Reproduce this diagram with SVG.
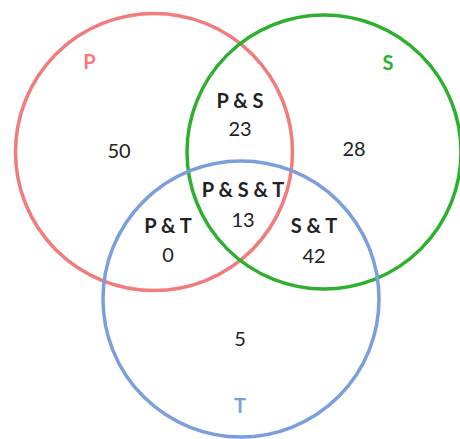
<svg xmlns="http://www.w3.org/2000/svg" width="460" height="439" viewBox="0 0 460 439">
<style>
.c{fill:none;stroke-width:3.5}
.t{font-family:Lato,"Open Sans","Liberation Sans",sans-serif;font-size:20px;text-anchor:middle;fill:#222}
.b{font-weight:bold}
</style>
<rect width="460" height="439" fill="#fff"/>
<g id="P"><circle class="c" cx="154" cy="152" r="138.5" stroke="#F07C7C"/></g>
<g id="S"><circle class="c" cx="324" cy="152" r="137" stroke="#2DB02D"/></g>
<g id="T"><circle class="c" cx="241" cy="299" r="138" stroke="#7B9FDD"/></g>
<g id="labels">
<text class="t b" x="89.5" y="69" style="fill:#F07C7C">P</text>
<text class="t b" x="388" y="70" style="fill:#2DB02D">S</text>
<text class="t b" x="240" y="413" style="fill:#7B9FDD">T</text>
<text class="t" x="119" y="158">50</text>
<text class="t" x="354" y="156">28</text>
<text class="t" x="240" y="346">5</text>
<text class="t b" x="240" y="108">P &amp; S</text>
<text class="t" x="240" y="136">23</text>
<text class="t b" x="243" y="197">P &amp; S &amp; T</text>
<text class="t" x="243" y="227">13</text>
<text class="t b" x="168" y="233">P &amp; T</text>
<text class="t" x="168" y="262">0</text>
<text class="t b" x="314" y="233">S &amp; T</text>
<text class="t" x="314" y="263">42</text>
</g>
</svg>
